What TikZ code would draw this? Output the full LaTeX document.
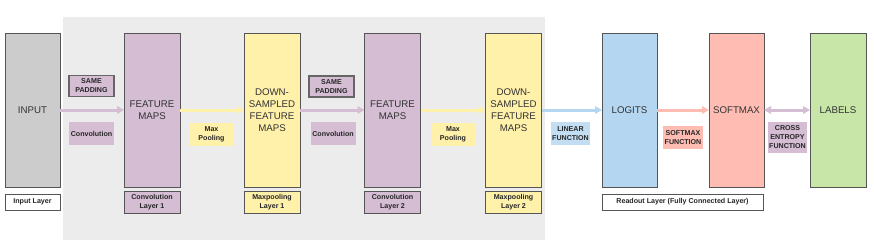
\documentclass[tikz,border=0pt]{standalone}
\usepackage{fontspec}
\setmainfont{Liberation Sans}
\usetikzlibrary{arrows.meta}

\definecolor{bggray}{RGB}{236,236,236}
\definecolor{inpgray}{RGB}{204,204,204}
\definecolor{convpurp}{RGB}{213,189,212}
\definecolor{poolyel}{RGB}{255,240,170}
\definecolor{logblue}{RGB}{180,214,240}
\definecolor{softred}{RGB}{255,188,178}
\definecolor{labgreen}{RGB}{200,230,168}
\definecolor{edgegray}{RGB}{85,85,85}
\definecolor{txtgray}{RGB}{51,51,51}

\begin{document}
\begin{tikzpicture}[
  x=1pt, y=-1pt,
  layer/.style={
    draw=edgegray,
    line width=0.8pt,
    minimum width=56pt,
    minimum height=154pt,
    inner sep=0pt,
    outer sep=0pt,
    align=center,
    text=txtgray,
    font=\fontsize{9.7}{12}\selectfont
  },
  caption/.style={
    draw=edgegray,
    line width=0.8pt,
    minimum width=56pt,
    minimum height=16pt,
    inner sep=1pt,
    align=center,
    text=black!85,
    font=\bfseries\fontsize{7.1}{9}\selectfont
  },
  fnlabel/.style={
    minimum width=45pt,
    minimum height=23pt,
    inner sep=1pt,
    align=center,
    text=black!85,
    font=\bfseries\fontsize{7.1}{9}\selectfont
  },
  padbox/.style={fnlabel, draw=black!60, line width=1.6pt, minimum height=21pt},
  flow/.style={
    line width=3pt,
    -{Triangle[length=7pt,width=7.5pt]}
  },
  bothflow/.style={
    line width=3pt,
    {Triangle[length=7pt,width=7.5pt]}-{Triangle[length=7pt,width=7.5pt]}
  }
]

\useasboundingbox (0,0) rectangle (874,246);

% convolutional part
\fill[bggray] (63,17) rectangle (545,240);

\node[layer, fill=inpgray, minimum width=55pt] (input) at (32.5,110) {INPUT};
\node[layer, fill=convpurp] (fmaps1) at (152,110) {FEATURE\\MAPS};
\node[layer, fill=poolyel] (down1) at (272,110) {DOWN-\\SAMPLED\\FEATURE\\MAPS};
\node[layer, fill=convpurp] (fmaps2) at (392.5,110) {FEATURE\\MAPS};
\node[layer, fill=poolyel] (down2) at (513.5,110) {DOWN-\\SAMPLED\\FEATURE\\MAPS};
\node[layer, fill=logblue, minimum width=55pt] (logits) at (629.5,110) {LOGITS};
\node[layer, fill=softred, minimum width=55pt] (softmax) at (736.5,110) {SOFTMAX};
\node[layer, fill=labgreen] (labels) at (838,110) {LABELS};

% layer captions
\node[caption, fill=white, minimum width=55pt] (capin) at (32.5,202) {Input Layer};
\node[caption, fill=convpurp, minimum height=22pt] (capconv1) at (152,202) {Convolution\\Layer 1};
\node[caption, fill=poolyel, minimum height=22pt] (cappool1) at (272,202) {Maxpooling\\Layer 1};
\node[caption, fill=convpurp, minimum height=22pt] (capconv2) at (392.5,202) {Convolution\\Layer 2};
\node[caption, fill=poolyel, minimum height=22pt] (cappool2) at (513.5,202) {Maxpooling\\Layer 2};
\node[caption, fill=white, minimum width=161pt] (capread) at (682.5,202) {Readout Layer (Fully Connected Layer)};

% connectors
\draw[flow, convpurp] (input) -- (fmaps1);
\draw[flow, poolyel] (fmaps1) -- (down1);
\draw[flow, convpurp] (down1) -- (fmaps2);
\draw[flow, poolyel] (fmaps2) -- (down2);
\draw[flow, logblue] (down2) -- (logits);
\draw[flow, softred] (logits) -- (softmax);
\draw[bothflow, convpurp] (softmax) -- (labels);

% function labels
\node[padbox, fill=convpurp] (pad1) at (91.5,86) {SAME\\PADDING};
\node[fnlabel, fill=convpurp] (conv1) at (91.5,133.5) {Convolution};
\node[fnlabel, fill=poolyel, minimum width=43pt] (pool1) at (211.5,134) {Max\\Pooling};
\node[padbox, fill=convpurp] (pad2) at (331.5,86.5) {SAME\\PADDING};
\node[fnlabel, fill=convpurp] (conv2) at (333,133.5) {Convolution};
\node[fnlabel, fill=poolyel, minimum width=43pt] (pool2) at (453,134) {Max\\Pooling};
\node[fnlabel, fill=logblue!80, minimum width=39pt] (linfn) at (570.5,133.5) {LINEAR\\FUNCTION};
\node[fnlabel, fill=softred, minimum width=40pt] (softfn) at (683,137.5) {SOFTMAX\\FUNCTION};
\node[fnlabel, fill=convpurp, minimum width=39pt, minimum height=31pt] (xentfn) at (787.5,137.5) {CROSS\\ENTROPY\\FUNCTION};

\end{tikzpicture}
\end{document}
